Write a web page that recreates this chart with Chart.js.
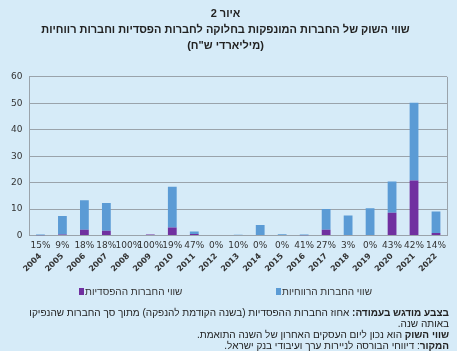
<!DOCTYPE html>
<html lang="he">
<head>
<meta charset="utf-8">
<script src="https://cdn.jsdelivr.net/npm/chart.js@4"></script>
<style>
    html, body { margin: 0; padding: 0; }
    body { width: 457px; height: 351px; background: #d6ebf8; overflow: hidden; position: relative; }
    #wrap { position: absolute; left: 0; top: 0; width: 457px; height: 288px; }
    .legend {
        position: absolute; top: 286px; height: 12px;
        direction: rtl; font-family: "Liberation Sans", sans-serif; font-size: 10px; color: #333;
        white-space: nowrap; line-height: 12px;
    }
    .legend i { display: inline-block; width: 5px; height: 7px; margin-right: 1px; }
    #notes {
        position: absolute; top: 307px; left: 0; right: 0;
        direction: rtl; text-align: right;
        font-family: "Liberation Sans", "DejaVu Sans", sans-serif;
        font-size: 10px; line-height: 11px; color: #222;
        padding: 0 8px;
    }
    #notes b { font-weight: bold; }
</style>
</head>
<body>
<div id="wrap"><canvas id="marketChart" width="457" height="288"></canvas></div>
<div class="legend" style="left:276px;">שווי החברות הרווחיות<i style="background:#5b9bd5"></i></div>
<div class="legend" style="left:79px;">שווי החברות ההפסדיות<i style="background:#7030a0"></i></div>
<div id="notes">
    <div><b>בצבע מודגש בעמודה:</b> אחוז החברות ההפסדיות (בשנה הקודמת להנפקה) מתוך סך החברות שהנפיקו באותה שנה.</div>
    <div><b>שווי השוק</b> הוא נכון ליום העסקים האחרון של השנה התואמת.</div>
    <div><b>המקור</b>: דיווחי הבורסה לניירות ערך ועיבודי בנק ישראל.</div>
</div>
<script>
const years = ['2004', '2005', '2006', '2007', '2008', '2009', '2010', '2011', '2012', '2013',
               '2014', '2015', '2016', '2017', '2018', '2019', '2020', '2021', '2022'];
// loss-making share (% of companies) shown under each bar
const lossPct = ['15%', '9%', '18%', '18%', '100%', '100%', '19%', '47%', '0%', '10%',
                 '0%', '0%', '41%', '27%', '3%', '0%', '43%', '42%', '14%'];
// market value, NIS billions
const lossValue   = [0.1, 0.4, 2.2, 1.8, 0, 0.4, 3.0, 0.6, 0, 0, 0, 0, 0.1, 2.2, 0, 0, 8.6, 20.8, 0.9];
const profitValue = [0.3, 7.0, 11.1, 10.5, 0, 0, 15.4, 0.9, 0, 0.3, 4.0, 0.5, 0.3, 7.8, 7.6, 10.3, 11.8, 29.4, 8.2];
const yTicks = [0, 10, 20, 30, 40, 50, 60];

const titleLines = ['איור 2', 'שווי השוק של החברות המונפקות בחלוקה לחברות הפסדיות וחברות רווחיות', '(מיליארדי ש"ח)'];

// percentages row, drawn just below the x axis
const pctRow = {
    id: 'pctRow',
    afterDraw(chart) {
        const c = chart.ctx;
        const x = chart.scales.x;
        c.save();
        c.font = '9px "DejaVu Sans", sans-serif';
        c.fillStyle = '#333';
        c.textAlign = 'center';
        c.textBaseline = 'middle';
        lossPct.forEach((p, i) => c.fillText(p, x.getPixelForValue(i), chart.chartArea.bottom + 10));
        c.restore();
    }
};

// frame on the right side of the plot
const plotFrame = {
    id: 'plotFrame',
    beforeDatasetsDraw(chart) {
        const a = chart.chartArea, c = chart.ctx;
        c.save();
        c.strokeStyle = '#9aa3ab';
        c.lineWidth = 1;
        c.beginPath();
        c.moveTo(Math.round(a.right) + 0.5, a.top);
        c.lineTo(Math.round(a.right) + 0.5, a.bottom);
        c.stroke();
        c.restore();
    }
};

const ctx = document.getElementById('marketChart').getContext('2d');
new Chart(ctx, {
    type: 'bar',
    data: {
        labels: years,
        datasets: [{
            label: 'שווי החברות ההפסדיות',
            data: lossValue,
            backgroundColor: '#7030a0'
        }, {
            label: 'שווי החברות הרווחיות',
            data: profitValue,
            backgroundColor: '#5b9bd5'
        }]
    },
    options: {
        responsive: false,
        animation: false,
        categoryPercentage: 0.8,
        barPercentage: 0.5,
        layout: { padding: { left: 4, right: 10, top: 3, bottom: 6 } },
        plugins: {
            title: {
                display: true,
                text: titleLines,
                color: '#222',
                font: { family: '"Liberation Sans", sans-serif', size: 11, weight: 'bold', lineHeight: 1.45 },
                padding: { top: 3, bottom: 23 }
            },
            legend: { display: false },
            tooltip: { enabled: false }
        },
        scales: {
            x: {
                stacked: true,
                grid: { display: false },
                border: { color: '#9aa3ab' },
                ticks: {
                    maxRotation: 45,
                    minRotation: 45,
                    padding: 8,
                    color: '#333',
                    font: { family: '"DejaVu Sans", sans-serif', size: 8, weight: 'bold' }
                }
            },
            y: {
                stacked: true,
                min: 0,
                max: 60,
                afterBuildTicks: (axis) => { axis.ticks = yTicks.map(v => ({ value: v })); },
                grid: { color: '#9aa3ab', drawTicks: false },
                border: { color: '#9aa3ab' },
                ticks: {
                    padding: 7,
                    color: '#333',
                    font: { family: '"DejaVu Sans", sans-serif', size: 9 }
                }
            }
        }
    },
    plugins: [pctRow, plotFrame]
});
</script>
</body>
</html>
